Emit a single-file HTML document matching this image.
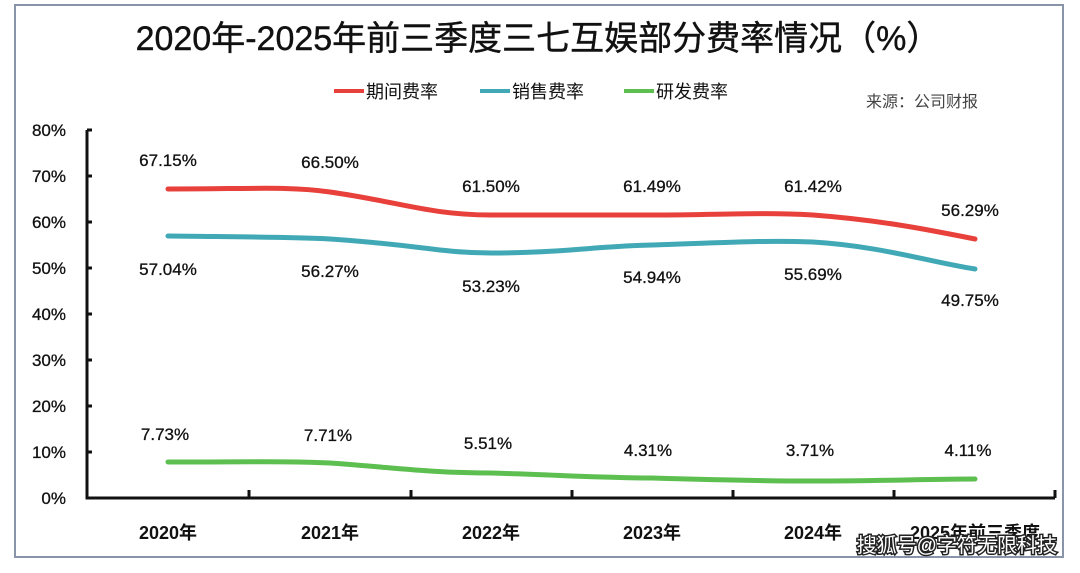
<!DOCTYPE html>
<html><head><meta charset="utf-8"><style>
body{margin:0;background:#fff;width:1080px;height:568px;overflow:hidden}
text{font-family:"Liberation Sans","Noto Sans CJK SC",sans-serif}
</style></head><body>
<svg width="1080" height="568" viewBox="0 0 1080 568">
<rect x="0" y="0" width="1080" height="568" fill="#fff"/>
<rect x="15" y="5" width="1048" height="552" fill="none" stroke="#8a94a8" stroke-width="2"/>
<text x="538" y="50" text-anchor="middle" font-size="34" fill="#111" stroke="#111" stroke-width="0.4">2020年-2025年前三季度三七互娱部分费率情况（%）</text>
<g font-size="18" fill="#111">
<line x1="334" y1="91" x2="364" y2="91" stroke="#e8413b" stroke-width="4"/><text x="366" y="98">期间费率</text>
<line x1="480" y1="91" x2="510" y2="91" stroke="#41a9b6" stroke-width="4"/><text x="512" y="98">销售费率</text>
<line x1="624" y1="91" x2="654" y2="91" stroke="#5cbf50" stroke-width="4"/><text x="656" y="98">研发费率</text>
</g>
<text x="866" y="107" font-size="16" fill="#444">来源：公司财报</text>
<g font-size="17" fill="#111" text-anchor="end" stroke="#111" stroke-width="0.3">
<text x="66" y="136">80%</text><text x="66" y="182">70%</text><text x="66" y="228">60%</text><text x="66" y="274">50%</text><text x="66" y="320">40%</text><text x="66" y="366">30%</text><text x="66" y="412">20%</text><text x="66" y="458">10%</text><text x="66" y="504">0%</text>
</g>
<g stroke="#111" stroke-width="3" fill="none">
<path d="M87 130 V498 H1055"/>
<path d="M87 130h5M87 176h5M87 222h5M87 268h5M87 314h5M87 360h5M87 406h5M87 452h5"/>
<path d="M249 498v-8M411 498v-8M572 498v-8M733 498v-8M894 498v-8M1055 498v-8"/>
</g>
<g fill="none" stroke-width="5" stroke-linecap="round">
<path d="M168 189 C250 189,290 186,330 192 C400 202,430 215,491 215 C560 215,600 215,652 215 C720 215,760 212,813 215 C880 220,930 230,975 239" stroke="#e8413b"/>
<path d="M168 236 C250 237,290 237,330 239 C420 245,440 253,491 253 C560 253,600 246,652 245 C720 243,760 240,813 242 C880 246,930 262,975 269" stroke="#41a9b6"/>
<path d="M168 462 C250 462,290 461,330 463 C400 468,430 473,491 473 C560 475,600 478,652 478 C720 480,760 481,813 481 C880 481,930 479,975 479" stroke="#5cbf50"/>
</g>
<g font-size="17" fill="#111" text-anchor="middle" stroke="#111" stroke-width="0.3">
<text x="168" y="166">67.15%</text><text x="330" y="168">66.50%</text><text x="491" y="192">61.50%</text><text x="652" y="192">61.49%</text><text x="813" y="192">61.42%</text><text x="970" y="216">56.29%</text>
<text x="168" y="275">57.04%</text><text x="330" y="277">56.27%</text><text x="491" y="292">53.23%</text><text x="652" y="283">54.94%</text><text x="813" y="280">55.69%</text><text x="970" y="306">49.75%</text>
<text x="165" y="440">7.73%</text><text x="328" y="441">7.71%</text><text x="488" y="449">5.51%</text><text x="648" y="456">4.31%</text><text x="810" y="456">3.71%</text><text x="968" y="456">4.11%</text>
</g>
<g font-size="18" fill="#111" text-anchor="middle" font-weight="bold">
<text x="168" y="539">2020年</text><text x="330" y="539">2021年</text><text x="491" y="539">2022年</text><text x="652" y="539">2023年</text><text x="813" y="539">2024年</text><text x="975" y="539">2025年前三季度</text>
</g>
<text x="1057" y="552" text-anchor="end" font-size="20" fill="#fff" stroke="#222" stroke-width="3" paint-order="stroke">搜狐号@字符无限科技</text>
</svg>
</body></html>
